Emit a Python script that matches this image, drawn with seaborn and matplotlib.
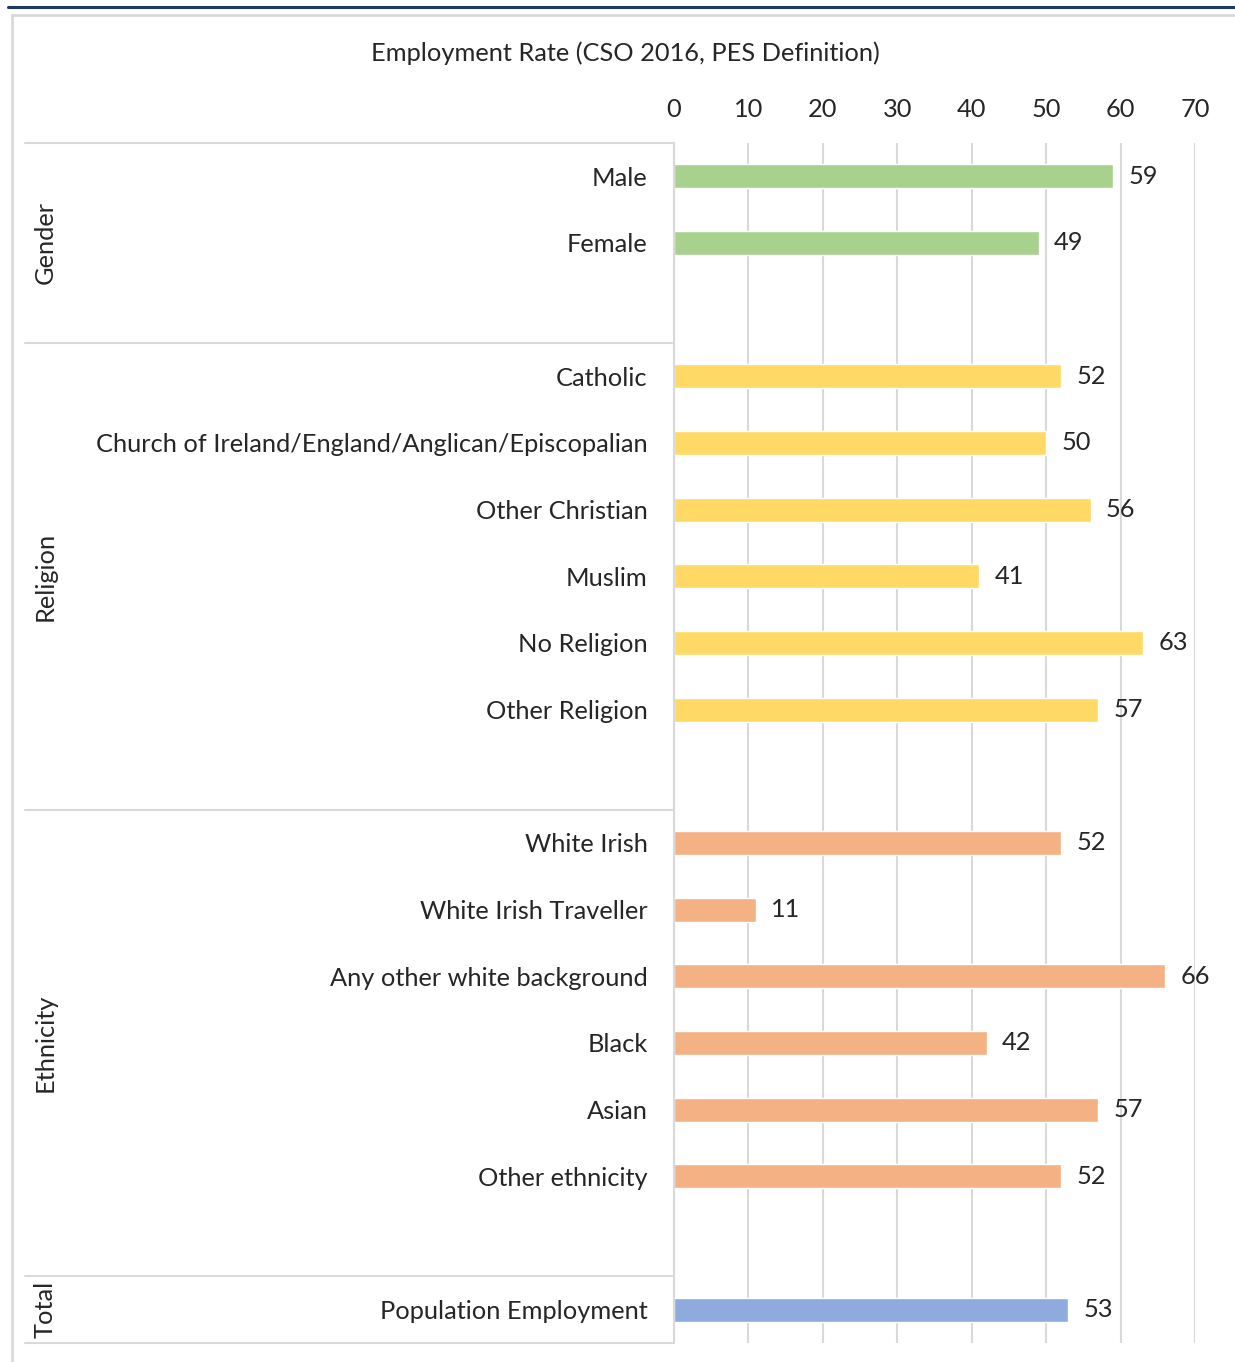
import numpy as np
import pandas as pd
import matplotlib
matplotlib.use("Agg")
import matplotlib.pyplot as plt
import matplotlib.transforms as mtransforms
from matplotlib.patches import Rectangle
from matplotlib.lines import Line2D
import seaborn as sns

# data
gender_cats = ["Male", "Female"]
gender_vals = [59, 49]
religion_cats = ["Catholic", "Church of Ireland/England/Anglican/Episcopalian",
                 "Other Christian", "Muslim", "No Religion", "Other Religion"]
religion_vals = [52, 50, 56, 41, 63, 57]
ethnicity_cats = ["White Irish", "White Irish Traveller", "Any other white background",
                  "Black", "Asian", "Other ethnicity"]
ethnicity_vals = [52, 11, 66, 42, 57, 52]
total_cats = ["Population Employment"]
total_vals = [53]

groups = ["Gender", "Religion", "Ethnicity", "Total"]
group_colors = {"Gender": "#A9D18E", "Religion": "#FFD966",
                "Ethnicity": "#F4B183", "Total": "#8FAADC"}
xticks = [0, 10, 20, 30, 40, 50, 60, 70]

cats_by_group = [gender_cats, religion_cats, ethnicity_cats, total_cats]
vals_by_group = [gender_vals, religion_vals, ethnicity_vals, total_vals]

rows = []
order = []
spans = []  # (start, end) row index of each group block
for i, (g, cats, vals) in enumerate(zip(groups, cats_by_group, vals_by_group)):
    start = len(order)
    for c, v in zip(cats, vals):
        rows.append({"category": c, "value": v, "group": g})
        order.append(c)
    if i < len(groups) - 1:
        order.append(" " * (i + 1))  # empty spacer row
    spans.append((start, len(order)))
df = pd.DataFrame(rows)

font = "Lato"
fs = 18.3
sns.set_style("white")
plt.rcParams["font.family"] = [font, "DejaVu Sans"]

W, H = 1235, 1362
fig = plt.figure(figsize=(W / 100, H / 100), dpi=100)
ax = fig.add_axes([674 / W, 1 - 1343 / H, (1195 - 674) / W, (1343 - 143) / H])

sns.barplot(data=df, y="category", x="value", hue="group", order=order,
            hue_order=groups, palette=group_colors, dodge=False, width=0.36,
            saturation=1, orient="h", legend=False, ax=ax)

ax.set_xlim(0, 70)
ax.set_ylim(len(order) - 0.5, -0.5)
ax.set_xticks(xticks)
ax.xaxis.tick_top()
ax.set_xlabel("")
ax.set_ylabel("")
ax.grid(axis="x", color="#D9D9D9", linewidth=1.5)
ax.set_axisbelow(True)
for s in ["top", "right", "bottom"]:
    ax.spines[s].set_visible(False)
ax.spines["left"].set_color("#D9D9D9")
ax.spines["left"].set_linewidth(1.5)
ax.tick_params(axis="x", length=0, pad=16, labelsize=fs)
ax.tick_params(axis="y", length=0, pad=19, labelsize=fs)

# value labels
for cont in ax.containers:
    ax.bar_label(cont, fmt="%d", padding=11, fontsize=fs)

# group separators and group names
trans = mtransforms.blended_transform_factory(ax.transAxes, ax.transData)
x_left = (25 - 674) / (1195 - 674)
x_name = (45 - 674) / (1195 - 674)
bounds = [spans[0][0]] + [e for _, e in spans]
for b in bounds:
    ax.plot([x_left, 0], [b - 0.5, b - 0.5], transform=trans, color="#D9D9D9",
            linewidth=1.5, clip_on=False)
for g, (s, e) in zip(groups, spans):
    ax.text(x_name, (s + e - 1) / 2, g, transform=trans, rotation=90,
            ha="center", va="center", fontsize=fs)

fig.text(625 / W, 1 - 53 / H, "Employment Rate (CSO 2016, PES Definition)",
         ha="center", va="center", fontsize=fs)

# frame around the chart and rule on top
fig.add_artist(Rectangle((12 / W, -0.05), 1.2, 1 - 15 / H + 0.05,
                         transform=fig.transFigure, fill=False,
                         edgecolor="#D9D9D9", linewidth=2))
fig.add_artist(Line2D([8 / W, 1], [1 - 7 / H, 1 - 7 / H], transform=fig.transFigure,
                      color="#1F3864", linewidth=2.2))

fig.savefig("out.png", dpi=100, facecolor="white")
